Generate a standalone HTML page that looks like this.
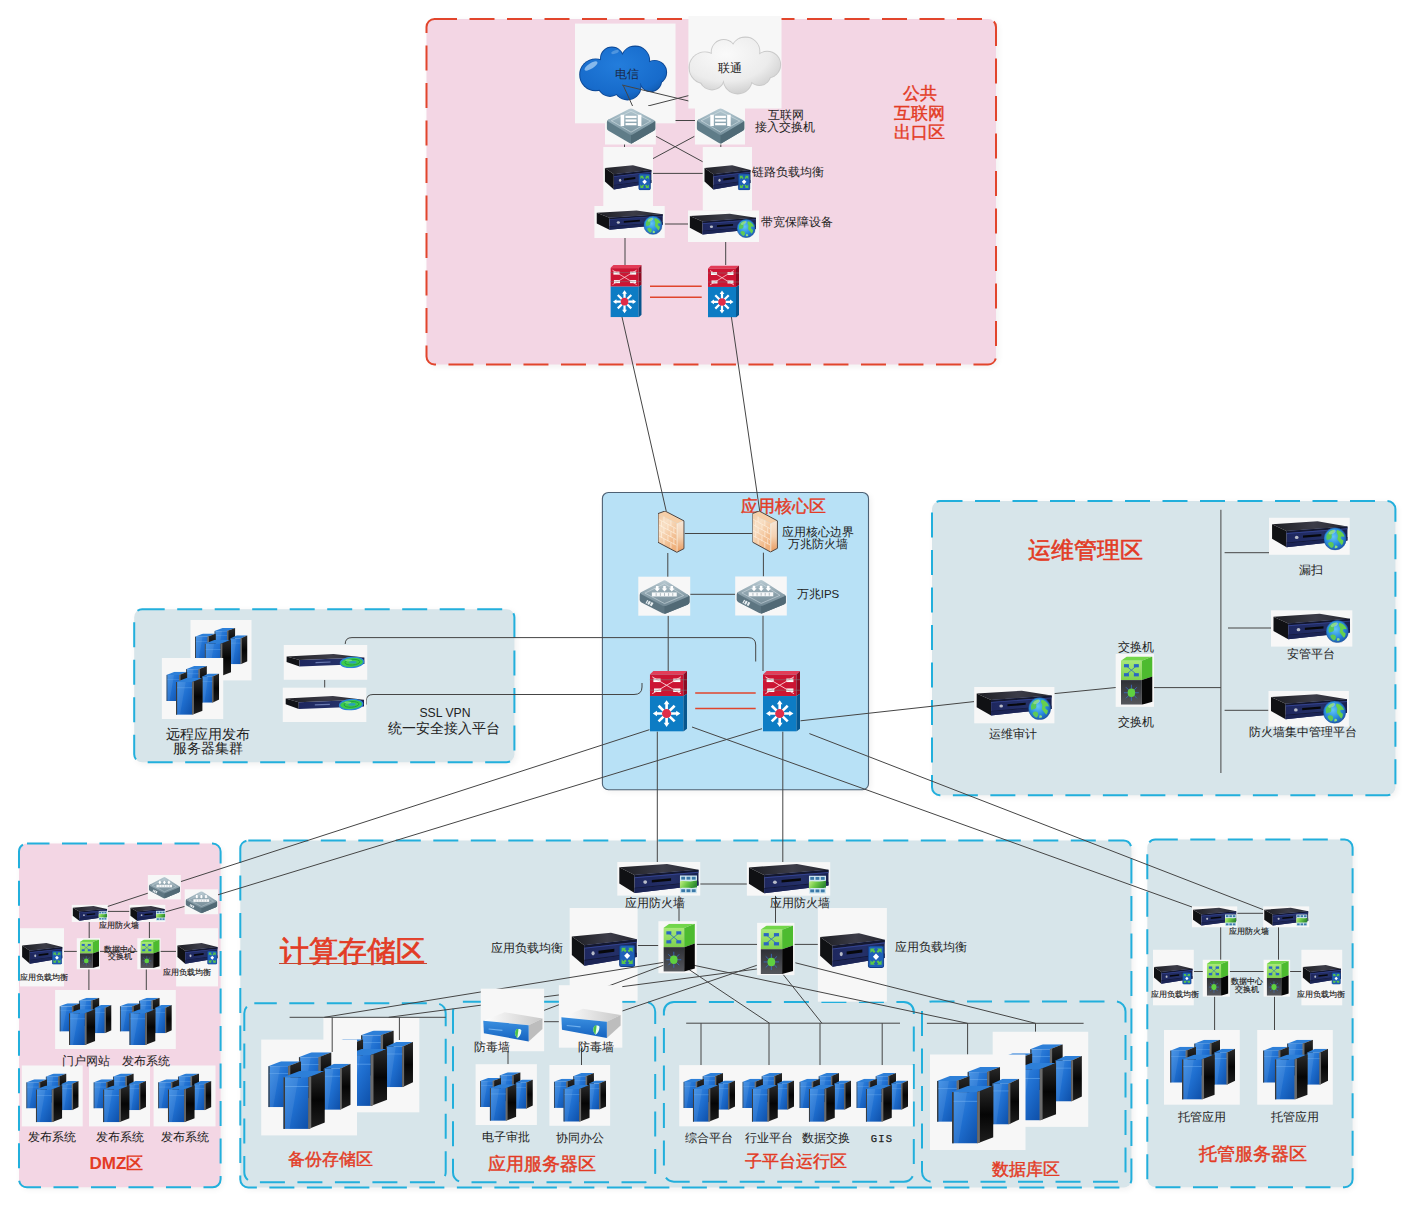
<!DOCTYPE html>
<html><head><meta charset="utf-8"><style>
html,body{margin:0;padding:0;background:#ffffff;width:1417px;height:1210px;overflow:hidden}
svg{display:block}
</style></head><body>
<svg width="1417" height="1210" viewBox="0 0 1417 1210">
<filter id="blur" x="-5%" y="-5%" width="110%" height="110%"><feGaussianBlur stdDeviation="3"/></filter>

<defs>
 <linearGradient id="gTop" x1="0" y1="0" x2="1" y2="0"><stop offset="0" stop-color="#1c1d22"/><stop offset="0.55" stop-color="#3c3c48"/><stop offset="1" stop-color="#26272f"/></linearGradient>
 <linearGradient id="gFront" x1="0" y1="0" x2="1" y2="0"><stop offset="0" stop-color="#1e275e"/><stop offset="0.6" stop-color="#243068"/><stop offset="1" stop-color="#19214e"/></linearGradient>
 <radialGradient id="gGlobe" cx="0.42" cy="0.4" r="0.65"><stop offset="0" stop-color="#62c6f6"/><stop offset="0.55" stop-color="#2b8ee0"/><stop offset="1" stop-color="#1d56a8"/></radialGradient>
 <linearGradient id="gTowerF" x1="0" y1="0" x2="1" y2="1"><stop offset="0" stop-color="#3d8fe6"/><stop offset="0.5" stop-color="#1f6fd0"/><stop offset="1" stop-color="#0e4fa8"/></linearGradient>
 <linearGradient id="gTowerS" x1="0" y1="0" x2="0" y2="1"><stop offset="0" stop-color="#2a2a2a"/><stop offset="0.5" stop-color="#050505"/><stop offset="1" stop-color="#1e1e1e"/></linearGradient>
 <radialGradient id="gCloudB" cx="0.45" cy="0.35" r="0.75"><stop offset="0" stop-color="#237ddc"/><stop offset="0.7" stop-color="#176bcb"/><stop offset="1" stop-color="#0c4f9f"/></radialGradient>
 <radialGradient id="gCloudW2" cx="0.4" cy="0.3" r="0.8"><stop offset="0" stop-color="#fafafa"/><stop offset="0.6" stop-color="#ececec"/><stop offset="1" stop-color="#c6c6c6"/></radialGradient>
 <radialGradient id="gCloudW" cx="0.45" cy="0.4" r="0.65"><stop offset="0" stop-color="#fbfbfb"/><stop offset="0.7" stop-color="#e6e6e6"/><stop offset="1" stop-color="#c2c2c2"/></radialGradient>
 <linearGradient id="gBrick" x1="0" y1="0" x2="0.6" y2="1"><stop offset="0" stop-color="#f3c79e"/><stop offset="0.35" stop-color="#f8e0c6"/><stop offset="1" stop-color="#f0b27e"/></linearGradient>
 <linearGradient id="gBrickR" x1="0" y1="0" x2="0" y2="1"><stop offset="0" stop-color="#f7e6d6"/><stop offset="0.5" stop-color="#f4d2b2"/><stop offset="1" stop-color="#e89a5e"/></linearGradient>
 <linearGradient id="gIpsTop" x1="0" y1="0" x2="0" y2="1"><stop offset="0" stop-color="#b9cad2"/><stop offset="0.5" stop-color="#8ea3ad"/><stop offset="1" stop-color="#728995"/></linearGradient>
 <linearGradient id="gSwTop" x1="0" y1="0" x2="0" y2="1"><stop offset="0" stop-color="#b7cad3"/><stop offset="0.55" stop-color="#8fa8b3"/><stop offset="1" stop-color="#76909c"/></linearGradient>
 <linearGradient id="gAvTop" x1="0" y1="0" x2="1" y2="0"><stop offset="0" stop-color="#ffffff"/><stop offset="1" stop-color="#c9c9c9"/></linearGradient>
 <linearGradient id="gAvF" x1="0" y1="0" x2="0" y2="1"><stop offset="0" stop-color="#3a8fe0"/><stop offset="1" stop-color="#1562bf"/></linearGradient>
 <linearGradient id="gGreenF" x1="0" y1="0" x2="0" y2="1"><stop offset="0" stop-color="#a8e878"/><stop offset="1" stop-color="#7fd24e"/></linearGradient>
 <linearGradient id="gDarkF" x1="0" y1="0" x2="0" y2="1"><stop offset="0" stop-color="#2e3036"/><stop offset="1" stop-color="#55575c"/></linearGradient>

 <symbol id="srv" viewBox="0 0 80 34" preserveAspectRatio="none">
  <polygon points="1,5 48,1.5 79,7.5 16,13" fill="url(#gTop)"/>
  <polygon points="1,5 16,13 16,32 1,22" fill="#101114"/>
  <polygon points="16,13 79,7.5 79,24 16,32" fill="url(#gFront)"/>
  <polygon points="16,13 79,7.5 79,9.8 16,15.3" fill="#141830"/>
  <polygon points="16,15.3 79,9.8 79,10.8 16,16.4" fill="#34438e"/>
  <circle cx="26.5" cy="20.5" r="1.9" fill="#b8bcc8"/>
  <polygon points="33,18.2 52,16.4 52,19 33,20.8" fill="#07080c"/>
  <polygon points="16,26.5 79,20 79,21 16,27.5" fill="#141a3a"/>
  <polygon points="16,27.5 79,21 79,24 16,32" fill="#1b2455"/>
 </symbol>

 <symbol id="srv1u" viewBox="0 0 80 13" preserveAspectRatio="none">
  <polygon points="1,2.5 48,0 79,3.5 14,6" fill="url(#gTop)"/>
  <polygon points="1,2.5 14,6 14,12.5 1,8" fill="#111216"/>
  <polygon points="14,6 79,3.5 79,10 14,12.5" fill="url(#gFront)"/>
  <polygon points="30,8 45,7.4 45,8.6 30,9.2" fill="#6a7ab0"/>
 </symbol>
 <symbol id="globe" viewBox="0 0 24 24">
  <circle cx="12" cy="12" r="11.6" fill="url(#gGlobe)"/>
  <path d="M3.2,8 C5,4 8.5,2.2 11,2.6 C12.5,4 10.5,5.5 9,6.5 C7.5,8 9.5,9.5 8,11.5 C6.5,13 4.5,12 3.5,13.5 C2.8,11.5 2.6,9.5 3.2,8Z" fill="#58c85a"/>
  <path d="M14.5,2.8 C18,3.6 21,6.5 21.8,9.5 C20.5,10.2 19.5,9 18.3,9.8 C17,11 18.8,13 20.5,13.5 C21,15 20.2,17 19,18.5 C17.5,17 16.5,15 15,13.5 C13.5,12 15.5,10 14.8,8 C14,6 12.5,4.5 14.5,2.8Z" fill="#66d04e"/>
  <path d="M6,15.5 C8,14.5 10,15.5 10.5,17.5 C11,19.5 9.5,21 8.5,21.5 C6.5,20.5 5,18.5 4.6,16.5Z" fill="#5ec858"/>
  <path d="M12,19 C13.5,18.5 15,19.5 14.5,21 C13.5,21.8 12.2,21.8 11.5,21.5Z" fill="#8ee07a"/>
  <ellipse cx="9" cy="5" rx="4" ry="1.8" fill="#ffffff" opacity="0.3" transform="rotate(-25 9 5)"/>
  <circle cx="12" cy="12" r="11.6" fill="none" stroke="#1b4f8f" stroke-width="0.5"/>
 </symbol>

 <symbol id="blb" viewBox="0 0 16 22">
  <rect x="0.5" y="0.5" width="15" height="21" rx="2" fill="#1f5fb8" stroke="#113f88" stroke-width="1"/>
  <path d="M2.5,3 L7,3 L5.8,4.2 L7.5,5.9 L6,7.4 L4.3,5.7 L2.5,7.5Z" fill="#59c64a"/>
  <path d="M13.5,3 L9,3 L10.2,4.2 L8.5,5.9 L10,7.4 L11.7,5.7 L13.5,7.5Z" fill="#59c64a"/>
  <path d="M2.5,19 L7,19 L5.8,17.8 L7.5,16.1 L6,14.6 L4.3,16.3 L2.5,14.5Z" fill="#59c64a"/>
  <path d="M13.5,19 L9,19 L10.2,17.8 L8.5,16.1 L10,14.6 L11.7,16.3 L13.5,14.5Z" fill="#59c64a"/>
  <polygon points="8,7.8 11,11 8,14.2 5,11" fill="#ffffff"/>
 </symbol>

 <symbol id="bfw" viewBox="0 0 18 19">
  <linearGradient id="gBfw" x1="0" y1="0" x2="1" y2="0.3"><stop offset="0" stop-color="#c9f08a"/><stop offset="0.5" stop-color="#6cc846"/><stop offset="1" stop-color="#2f8a32"/></linearGradient>
  <rect x="0" y="0" width="18" height="19" fill="#cfe6f0"/>
  <rect x="1.5" y="1.5" width="4" height="3" fill="#3a78a8"/><rect x="7" y="1.5" width="4" height="3" fill="#3a78a8"/><rect x="12.5" y="1.5" width="4" height="3" fill="#3a78a8"/>
  <rect x="1.5" y="14.5" width="4" height="3" fill="#3a78a8"/><rect x="7" y="14.5" width="4" height="3" fill="#3a78a8"/><rect x="12.5" y="14.5" width="4" height="3" fill="#3a78a8"/>
  <path d="M0,6.5 C5,5 10,7.5 18,5.5 L18,12.5 C12,14 6,12 0,13.5Z" fill="url(#gBfw)"/>
 </symbol>

 <symbol id="veye" viewBox="0 0 30 14">
  <ellipse cx="15" cy="7" rx="14" ry="6.2" fill="#3ccb4c" stroke="#2a86d6" stroke-width="1.6" transform="rotate(-4 15 7)"/>
  <ellipse cx="15.5" cy="6.8" rx="9" ry="3.4" fill="none" stroke="#1f9b3c" stroke-width="1.1" transform="rotate(-4 15 7)"/>
  <ellipse cx="16" cy="6.8" rx="4.5" ry="1.6" fill="#2aa0b8"/>
  <ellipse cx="11" cy="4.5" rx="4" ry="1.2" fill="#9af0a0" opacity="0.6"/>
 </symbol>

 <symbol id="cisco" viewBox="0 0 31 52" preserveAspectRatio="none">
  <polygon points="0,3 3,0 31,0 28,3" fill="#e23d58"/>
  <rect x="0" y="3" width="28" height="18.5" fill="#cc1533"/>
  <polygon points="28,3 31,0 31,19.5 28,21.5" fill="#8d0b22"/>
  <rect x="3" y="6.5" width="6" height="3" fill="#fff"/><rect x="19.5" y="6.5" width="6" height="3" fill="#fff"/>
  <rect x="3.5" y="15" width="6" height="3" fill="#fff"/><rect x="19.5" y="15" width="6" height="3" fill="#fff"/>
  <path d="M2,5 L26,19.5 M26,5 L2,19.5" stroke="#f7c9cf" stroke-width="0.8"/>
  <path d="M-5,7.5 L36,7.5 M-5,16.5 L36,16.5" stroke="#7a7a7a" stroke-width="0.6" opacity="0.8"/>
  <rect x="0" y="21.5" width="28" height="30.5" fill="#0d7cc4"/>
  <polygon points="28,21.5 31,19.5 31,49.5 28,52" fill="#07568e"/>
  <g stroke="#ffffff" stroke-width="2.2" stroke-linecap="butt">
   <line x1="14" y1="36.5" x2="14" y2="27"/><line x1="14" y1="36.5" x2="14" y2="46"/>
   <line x1="14" y1="36.5" x2="4.5" y2="36.5"/><line x1="14" y1="36.5" x2="23.5" y2="36.5"/>
   <line x1="14" y1="36.5" x2="7.3" y2="29.8"/><line x1="14" y1="36.5" x2="20.7" y2="29.8"/>
   <line x1="14" y1="36.5" x2="7.3" y2="43.2"/><line x1="14" y1="36.5" x2="20.7" y2="43.2"/>
  </g>
  <g fill="#ffffff">
   <polygon points="14,25 11.6,28.5 16.4,28.5"/><polygon points="14,48 11.6,44.5 16.4,44.5"/>
   <polygon points="2.5,36.5 6,34.1 6,38.9"/><polygon points="25.5,36.5 22,34.1 22,38.9"/>
  </g>
  <circle cx="14" cy="36.5" r="3.8" fill="#e02c48"/>
 </symbol>

 <symbol id="gsw" viewBox="0 0 32 48" preserveAspectRatio="none">
  <polygon points="0,4.1 6,0 31.7,0 21,4.1" fill="#72d64a"/>
  <rect x="0" y="4.1" width="21" height="19.3" fill="url(#gGreenF)"/>
  <polygon points="21,4.1 31.7,0 31.7,19.7 21,23.4" fill="#4dbb2f"/>
  <rect x="0" y="23.4" width="21" height="24.5" fill="url(#gDarkF)"/>
  <polygon points="21,23.4 31.7,19.7 31.7,44.9 21,47.9" fill="#060606"/>
  <g stroke="#2f6fc0" stroke-width="0.8"><line x1="5" y1="9" x2="16" y2="18"/><line x1="16" y1="9" x2="5" y2="18"/></g>
  <rect x="3" y="7.5" width="5" height="3.2" fill="#2a66c4"/><rect x="13" y="7.5" width="5" height="3.2" fill="#2a66c4"/>
  <rect x="3" y="16.5" width="5" height="3.2" fill="#2a66c4"/><rect x="13" y="16.5" width="5" height="3.2" fill="#2a66c4"/>
  <g stroke="#3a70c8" stroke-width="0.8"><line x1="10.5" y1="28" x2="10.5" y2="44"/><line x1="3" y1="36" x2="18" y2="36"/><line x1="5" y1="30.5" x2="16" y2="41.5"/><line x1="16" y1="30.5" x2="5" y2="41.5"/></g>
  <ellipse cx="10.5" cy="36" rx="3.8" ry="4.2" fill="#5fd040"/>
 </symbol>

 <symbol id="brick" viewBox="0 0 27 42" preserveAspectRatio="none">
  <polygon points="0,2.6 19,12.6 19,41.3 0,31.3" fill="url(#gBrick)"/>
  <polygon points="0,2.6 7.1,0 26.2,9.9 19,12.6" fill="#f6cfa8"/>
  <polygon points="19,12.6 26.2,9.9 26.2,37.6 19,41.3" fill="url(#gBrickR)"/>
  <g stroke="#fff4e6" stroke-width="0.75" opacity="0.85" fill="none">
   <line x1="1" y1="8.5" x2="18.5" y2="17.7"/><line x1="1" y1="14" x2="18.5" y2="23.2"/><line x1="1" y1="19.5" x2="18.5" y2="28.7"/><line x1="1" y1="25" x2="18.5" y2="34.2"/>
   <line x1="6" y1="5.6" x2="6" y2="11"/><line x1="13" y1="9.3" x2="13" y2="14.7"/><line x1="3.5" y1="10.2" x2="3.5" y2="15.8"/><line x1="10" y1="13.6" x2="10" y2="19.2"/><line x1="16" y1="16.8" x2="16" y2="22.4"/>
   <line x1="6" y1="16.8" x2="6" y2="22.2"/><line x1="13" y1="20.5" x2="13" y2="26"/><line x1="3.5" y1="21.2" x2="3.5" y2="26.8"/><line x1="10" y1="24.8" x2="10" y2="30.4"/><line x1="16" y1="28" x2="16" y2="33.6"/>
   <line x1="6" y1="28" x2="6" y2="33.4"/><line x1="13" y1="31.7" x2="13" y2="37.2"/>
   <line x1="19.3" y1="13" x2="19.3" y2="41"/>
  </g>
  <polygon points="0,2.6 7.1,0 26.2,9.9 26.2,37.6 19,41.3 0,31.3" fill="none" stroke="#4a4240" stroke-width="1"/>
 </symbol>

 <symbol id="ips" viewBox="0 0 52 39" preserveAspectRatio="none">
  <path d="M2.5,14.6 Q0.7,15.5 0.7,17.5 L0.7,23 Q0.7,24.6 2.5,25.6 L24,37.2 Q26,38.2 28,37.2 L49.5,28 Q51.5,27 51.5,25.2 L51.5,19.8 Q51.5,18 49.5,17 Z" fill="#5d7581"/>
  <path d="M26,29.7 L51.5,18.6 L51.5,25.5 Q51.5,27 49.5,28 L28,37.2 Q26,38.2 26,37.8Z" fill="#516975"/>
  <path d="M24,2.6 Q26,1.2 28,2.6 L49.5,17 Q51.5,18.4 49.5,19.5 L28,29 Q26,29.9 24,29 L2.5,16.8 Q0.5,15.5 2.5,14.3Z" fill="url(#gIpsTop)"/>
  <path d="M26,5.5 L45.5,18.2 L26,26.8 L6,15.6Z" fill="none" stroke="#cfdce2" stroke-width="0.8" stroke-linejoin="round" opacity="0.75"/>
  <rect x="13.1" y="14.9" width="25.4" height="4.3" fill="#f7f9fa"/>
  <g stroke="#7c8b96" stroke-width="0.6"><line x1="17.5" y1="15.6" x2="17.5" y2="18.6"/><line x1="21.8" y1="15.6" x2="21.8" y2="18.6"/><line x1="26" y1="15.6" x2="26" y2="18.6"/><line x1="30.2" y1="15.6" x2="30.2" y2="18.6"/><line x1="34.4" y1="15.6" x2="34.4" y2="18.6"/></g>
  <g fill="#ffffff"><polygon points="17.3,8 19.9,8 19.9,10.6 21.4,10.6 18.6,13.8 15.8,10.6 17.3,10.6"/><polygon points="24.7,8 27.3,8 27.3,10.6 28.8,10.6 26,13.8 23.2,10.6 24.7,10.6"/><polygon points="32.1,8 34.7,8 34.7,10.6 36.2,10.6 33.4,13.8 30.6,10.6 32.1,10.6"/></g>
  <g fill="#e8eef1" transform="rotate(27 9 26)"><rect x="7" y="23.5" width="1.3" height="4"/><rect x="9" y="23.5" width="2.2" height="4"/><rect x="12" y="23.5" width="2.2" height="4"/></g>
 </symbol>

 <symbol id="asw" viewBox="0 0 50 38" preserveAspectRatio="none">
  <path d="M3,13.2 Q1.4,14.3 1.4,16 L1.4,22 Q1.4,23.6 3,24.5 L23.5,36.8 Q25.5,38 27.5,36.8 L48.3,24.6 Q50,23.6 50,22 L50,16.5 Q50,14.9 48.3,13.9Z" fill="#5f7c88"/>
  <path d="M25.5,29.1 L50,14.7 L50,22 Q50,23.6 48.3,24.6 L27.5,36.8 Q25.5,38 25.5,37.6Z" fill="#4f6a76"/>
  <path d="M23.5,2.5 Q25.5,1.3 27.5,2.5 L48.3,13.6 Q50,14.7 48.3,15.8 L27.5,28 Q25.5,29.2 23.5,28 L3,15.5 Q1.4,14.3 3,13.2Z" fill="url(#gSwTop)"/>
  <path d="M25.5,4.8 L45.2,14.7 L25.5,26 L5.8,14.4Z" fill="none" stroke="#d9e5ea" stroke-width="0.8" stroke-linejoin="round" opacity="0.7"/>
  <rect x="15.1" y="8.4" width="3.6" height="11.4" fill="#fff"/><rect x="32.3" y="8.4" width="3.6" height="11.4" fill="#fff"/>
  <rect x="20" y="9.4" width="11" height="2.2" fill="#fff"/><rect x="20" y="13.1" width="11" height="2.2" fill="#fff"/><rect x="20" y="16.8" width="11" height="2.2" fill="#fff"/>
 </symbol>

 <symbol id="av" viewBox="0 0 64 63" preserveAspectRatio="none">
  <polygon points="2.5,32.2 24.2,23.8 62.3,30 48.4,36.8" fill="url(#gAvTop)"/>
  <polygon points="48.4,36.8 62.3,30 62.3,40.6 48.4,53.3" fill="#bdbdbd"/>
  <polygon points="2.5,32.2 48.4,36.8 48.4,53.3 3.1,44.9" fill="url(#gAvF)"/>
  <rect x="8" y="40" width="14" height="1.2" fill="#6fb0ee" transform="rotate(6 8 40)"/>
  <path d="M35,43 C36,40 40,40 41,42 C41,46 39,49 37,50 C35,48 34,45 35,43Z" fill="#e8fff0"/>
  <path d="M35,43 C36,40 38,40 38,41 C38,44 37,47 37,50 C35,48 34,45 35,43Z" fill="#4cc04a"/>
 </symbol>

 <symbol id="tower" viewBox="0 0 33 46" preserveAspectRatio="none">
  <polygon points="0,5 20,5 33,0 13,0" fill="#2d7fd8"/>
  <rect x="0" y="5" width="20" height="41" fill="url(#gTowerF)"/>
  <rect x="0" y="5" width="1.4" height="41" fill="#3a3a3a"/>
  <polygon points="20,5 33,0 33,41 20,46" fill="url(#gTowerS)"/>
  <polygon points="20,5 22.2,4.2 22.2,45.2 20,46" fill="#6b6b6b"/>
  <rect x="1.4" y="12" width="18.6" height="0.6" fill="#5aa0ea"/>
  <path d="M1.4,5 L12,5 L5,46 L1.4,46Z" fill="#ffffff" opacity="0.08"/>
 </symbol>

 <symbol id="cluster" viewBox="0 0 76 75" preserveAspectRatio="none">
  <use href="#tower" x="29.8" y="9.9" width="26" height="36"/>
  <use href="#tower" x="5.6" y="16.9" width="26" height="36"/>
  <use href="#tower" x="49.5" y="19" width="21.5" height="36"/>
  <use href="#tower" x="17.5" y="24.6" width="33" height="45.3"/>
 </symbol>
</defs>

<rect x="428.5" y="21" width="569.5" height="345.5" rx="8" fill="#000" opacity="0.06" filter="url(#blur)"/><rect x="426.5" y="19" width="569.5" height="345.5" rx="8" fill="#f3d6e4" stroke="#e2452c" stroke-width="2" stroke-dasharray="25,12.5" stroke-dashoffset="2.5"/><rect x="604.4" y="494.5" width="266.1" height="297.2" rx="6" fill="#000" opacity="0.06" filter="url(#blur)"/><rect x="602.4" y="492.5" width="266.1" height="297.2" rx="6" fill="#b8e1f6" stroke="#4e6174" stroke-width="1.1"/><rect x="136.2" y="611.2" width="380.2" height="153.1" rx="8" fill="#000" opacity="0.06" filter="url(#blur)"/><rect x="134.2" y="609.2" width="380.2" height="153.1" rx="8" fill="#d7e5ea" stroke="#22afdc" stroke-width="2" stroke-dasharray="25,12.5" stroke-dashoffset="2.5"/><rect x="934" y="503.1" width="463.4" height="294.1" rx="8" fill="#000" opacity="0.06" filter="url(#blur)"/><rect x="932" y="501.1" width="463.4" height="294.1" rx="8" fill="#d7e5ea" stroke="#22afdc" stroke-width="2" stroke-dasharray="25,12.5" stroke-dashoffset="2.5"/><rect x="21" y="845.5" width="201.6" height="343.8" rx="8" fill="#000" opacity="0.06" filter="url(#blur)"/><rect x="19" y="843.5" width="201.6" height="343.8" rx="8" fill="#f3d6e4" stroke="#22afdc" stroke-width="2" stroke-dasharray="25,12.5" stroke-dashoffset="2.5"/><rect x="242.3" y="842.6" width="891.1" height="346.9" rx="8" fill="#000" opacity="0.06" filter="url(#blur)"/><rect x="240.3" y="840.6" width="891.1" height="346.9" rx="8" fill="#d7e5ea" stroke="#22afdc" stroke-width="2" stroke-dasharray="25,12.5" stroke-dashoffset="2.5"/><rect x="244.3" y="1003.2" width="201.4" height="179.1" rx="10" fill="#d7e5ea" stroke="#22afdc" stroke-width="2" stroke-dasharray="25,12.5" stroke-dashoffset="2.5"/><rect x="453" y="1001.8" width="202.2" height="180.4" rx="10" fill="#d7e5ea" stroke="#22afdc" stroke-width="2" stroke-dasharray="25,12.5" stroke-dashoffset="2.5"/><rect x="663.9" y="1001.9" width="249.9" height="179.8" rx="10" fill="#d7e5ea" stroke="#22afdc" stroke-width="2" stroke-dasharray="25,12.5" stroke-dashoffset="2.5"/><rect x="922" y="1001.5" width="203.5" height="180.3" rx="10" fill="#d7e5ea" stroke="#22afdc" stroke-width="2" stroke-dasharray="25,12.5" stroke-dashoffset="2.5"/><rect x="1149.3" y="841.6" width="205.3" height="347.6" rx="8" fill="#000" opacity="0.06" filter="url(#blur)"/><rect x="1147.3" y="839.6" width="205.3" height="347.6" rx="8" fill="#d7e5ea" stroke="#22afdc" stroke-width="2" stroke-dasharray="25,12.5" stroke-dashoffset="2.5"/><path d="M655,120.5 L695,120.5" fill="none" stroke="#454545" stroke-width="1"/><path d="M656.2,136.4 L702.8,161.8" fill="none" stroke="#454545" stroke-width="1"/><path d="M694.3,136.4 L653,158.6" fill="none" stroke="#454545" stroke-width="1"/><path d="M624.5,144 L624.5,148" fill="none" stroke="#454545" stroke-width="1"/><path d="M720.8,144 L720.8,148" fill="none" stroke="#454545" stroke-width="1"/><path d="M653,173.4 L702.8,173.4" fill="none" stroke="#454545" stroke-width="1"/><path d="M664.7,224 L688,224" fill="none" stroke="#454545" stroke-width="1"/><path d="M625,238 L625,265" fill="none" stroke="#454545" stroke-width="1"/><path d="M725.7,242 L725.7,265" fill="none" stroke="#454545" stroke-width="1"/><path d="M650,286.3 L701.7,286.3" fill="none" stroke="#e0452c" stroke-width="1.5"/><path d="M650,297.3 L701.7,297.3" fill="none" stroke="#e0452c" stroke-width="1.5"/><path d="M622,317 L666.2,511" fill="none" stroke="#454545" stroke-width="1"/><path d="M731.4,317 L759.7,511" fill="none" stroke="#454545" stroke-width="1"/><rect x="575" y="23.6" width="100.5" height="99.7" fill="#f7f7f7"/><g fill="#0b4694"><circle cx="595.6" cy="74.8" r="16.4"/><circle cx="611.9" cy="58.5" r="11.9"/><circle cx="635.2" cy="60.5" r="14.9"/><circle cx="654.6" cy="72.4" r="12.5"/><circle cx="627.4" cy="86.4" r="14.1"/><circle cx="650.7" cy="80.7" r="11.4"/><circle cx="610" cy="84" r="12.9"/></g><clipPath id="cpB"><circle cx="595.6" cy="74.8" r="15.5"/><circle cx="611.9" cy="58.5" r="11"/><circle cx="635.2" cy="60.5" r="14"/><circle cx="654.6" cy="72.4" r="11.6"/><circle cx="627.4" cy="86.4" r="13.2"/><circle cx="650.7" cy="80.7" r="10.5"/><circle cx="610" cy="84" r="12"/><ellipse cx="625" cy="72" rx="25" ry="14"/></clipPath><rect x="580.1" y="46.5" width="86.10000000000002" height="53.10000000000001" fill="url(#gCloudB)" clip-path="url(#cpB)"/><ellipse cx="591" cy="66" rx="7.5" ry="2.8" fill="#a9d0f4" opacity="0.75" transform="rotate(-32 591 66)"/><ellipse cx="615" cy="52" rx="4" ry="1.6" fill="#7fb6ea" opacity="0.5" transform="rotate(-20 615 52)"/><path d="M623.5,86 L633,107" fill="none" stroke="#454545" stroke-width="1"/><path d="M622,85 L718,108" fill="none" stroke="#454545" stroke-width="1"/><path d="M648,106 L730,85" fill="none" stroke="#454545" stroke-width="1"/><rect x="688.4" y="16" width="93.1" height="92.5" fill="#f7f7f7"/><g fill="#c9c9c9"><circle cx="705" cy="67.8" r="16.4"/><circle cx="723.7" cy="52" r="12.9"/><circle cx="745.4" cy="51.5" r="14.9"/><circle cx="767.2" cy="64.7" r="13.9"/><circle cx="737.7" cy="79.5" r="14.9"/><circle cx="712" cy="77.5" r="12.9"/><circle cx="759.4" cy="74" r="11.9"/></g><clipPath id="cpW"><circle cx="705" cy="67.8" r="15.5"/><circle cx="723.7" cy="52" r="12"/><circle cx="745.4" cy="51.5" r="14"/><circle cx="767.2" cy="64.7" r="13"/><circle cx="737.7" cy="79.5" r="14"/><circle cx="712" cy="77.5" r="12"/><circle cx="759.4" cy="74" r="11"/><ellipse cx="735" cy="66" rx="28" ry="14"/></clipPath><rect x="689.5" y="37.5" width="90.70000000000005" height="56.0" fill="url(#gCloudW2)" clip-path="url(#cpW)"/><rect x="605" y="106" width="50.8" height="38.5" fill="#f7f7f7"/><use href="#asw" x="605.5" y="106.5" width="50.0" height="37.5"/><rect x="695" y="106" width="50.0" height="38.5" fill="#f7f7f7"/><use href="#asw" x="695.5" y="106.5" width="49.0" height="37.5"/><rect x="603.3" y="147" width="49.7" height="59.0" fill="#f7f7f7"/><use href="#srv" x="604.3" y="164" width="47.7" height="27.0"/><use href="#blb" x="638.2" y="173.4" width="12.8" height="16.9"/><rect x="702.8" y="147" width="49.2" height="63.5" fill="#f7f7f7"/><use href="#srv" x="703.9" y="164" width="47.1" height="27.0"/><use href="#blb" x="737.7" y="173.4" width="12.8" height="16.9"/><rect x="594.4" y="206" width="70.3" height="32.0" fill="#f7f7f7"/><use href="#srv" x="595.9" y="209.5" width="67.7" height="21.5"/><use href="#globe" x="643.5" y="215.8" width="19.0" height="19.0"/><rect x="688" y="210.5" width="71.0" height="31.5" fill="#f7f7f7"/><use href="#srv" x="689" y="212.6" width="67.8" height="23.4"/><use href="#globe" x="736.7" y="219" width="19.0" height="19.0"/><use href="#cisco" x="610.4" y="265.1" width="31.3" height="52.1"/><use href="#cisco" x="708" y="265.5" width="31.0" height="51.9"/><text x="626.7" y="73.8" font-size="12" fill="#1a2a48" text-anchor="middle" font-weight="normal" font-family="'Liberation Sans', sans-serif" dominant-baseline="central" >电信</text><text x="730" y="67.8" font-size="12" fill="#222" text-anchor="middle" font-weight="normal" font-family="'Liberation Sans', sans-serif" dominant-baseline="central" >联通</text><text x="785.5" y="114.6" font-size="12" fill="#222222" text-anchor="middle" font-weight="normal" font-family="'Liberation Sans', sans-serif" dominant-baseline="central" >互联网</text><text x="785" y="127.3" font-size="12" fill="#222222" text-anchor="middle" font-weight="normal" font-family="'Liberation Sans', sans-serif" dominant-baseline="central" >接入交换机</text><text x="752" y="171.8" font-size="12" fill="#222222" text-anchor="start" font-weight="normal" font-family="'Liberation Sans', sans-serif" dominant-baseline="central" >链路负载均衡</text><text x="761" y="222.4" font-size="12" fill="#222222" text-anchor="start" font-weight="normal" font-family="'Liberation Sans', sans-serif" dominant-baseline="central" >带宽保障设备</text><text x="919.5" y="93.5" font-size="17" fill="#e33b25" text-anchor="middle" font-weight="normal" font-family="'Liberation Sans', sans-serif" dominant-baseline="central"  stroke="#e33b25" stroke-width="0.43">公共</text><text x="919.5" y="113.4" font-size="17" fill="#e33b25" text-anchor="middle" font-weight="normal" font-family="'Liberation Sans', sans-serif" dominant-baseline="central"  stroke="#e33b25" stroke-width="0.43">互联网</text><text x="919.5" y="132" font-size="17" fill="#e33b25" text-anchor="middle" font-weight="normal" font-family="'Liberation Sans', sans-serif" dominant-baseline="central"  stroke="#e33b25" stroke-width="0.43">出口区</text><text x="783" y="506.4" font-size="17" fill="#e33b25" text-anchor="middle" font-weight="normal" font-family="'Liberation Sans', sans-serif" dominant-baseline="central"  stroke="#e33b25" stroke-width="0.43">应用核心区</text><path d="M684.8,533.5 L752.4,533.5" fill="none" stroke="#454545" stroke-width="1"/><path d="M667.8,553 L667.8,577" fill="none" stroke="#454545" stroke-width="1"/><path d="M763.4,552.7 L763.4,576.5" fill="none" stroke="#454545" stroke-width="1"/><path d="M690.2,594.3 L735.2,594.3" fill="none" stroke="#454545" stroke-width="1"/><path d="M668.2,615.7 L668.2,671" fill="none" stroke="#454545" stroke-width="1"/><path d="M763,615.5 L763,671" fill="none" stroke="#454545" stroke-width="1"/><path d="M695.2,693.1 L755.7,693.1" fill="none" stroke="#e0452c" stroke-width="1.5"/><path d="M695.2,708.5 L755.7,708.5" fill="none" stroke="#e0452c" stroke-width="1.5"/><path d="M345.2,644 Q345.2,637.6 352,637.6 L748,637.6 Q755.7,637.6 755.7,645 L755.7,661.5" fill="none" stroke="#454545" stroke-width="1"/><path d="M366.3,704.6 L366.3,701 Q366.3,694.5 373,694.5 L634,694.5 Q642,694.5 642,687 L642,683" fill="none" stroke="#454545" stroke-width="1"/><path d="M657.3,731.6 L657.3,862" fill="none" stroke="#454545" stroke-width="1"/><path d="M782.8,731.6 L782.8,862" fill="none" stroke="#454545" stroke-width="1"/><path d="M649.4,729.7 L180.8,881.6" fill="none" stroke="#454545" stroke-width="1"/><path d="M762,728.7 L218,894.8" fill="none" stroke="#454545" stroke-width="1"/><path d="M692,727 L1192,907" fill="none" stroke="#454545" stroke-width="1"/><path d="M809.4,733.6 L1263.6,909.8" fill="none" stroke="#454545" stroke-width="1"/><path d="M800.5,720.8 L974,701.6" fill="none" stroke="#454545" stroke-width="1"/><use href="#brick" x="658" y="511" width="26.8" height="42.0"/><use href="#brick" x="752.4" y="511" width="25.8" height="41.7"/><rect x="638.3" y="576.7" width="51.9" height="39.0" fill="#f7f7f7"/><use href="#ips" x="639" y="578.5" width="51.0" height="36.5"/><rect x="735.2" y="576.5" width="51.6" height="39.0" fill="#f7f7f7"/><use href="#ips" x="736" y="578.3" width="50.3" height="36.5"/><use href="#cisco" x="649.8" y="671" width="37.2" height="60.6"/><use href="#cisco" x="763" y="671" width="37.0" height="60.6"/><text x="818.4" y="531.8" font-size="12" fill="#222222" text-anchor="middle" font-weight="normal" font-family="'Liberation Sans', sans-serif" dominant-baseline="central" >应用核心边界</text><text x="818.2" y="544.0" font-size="12" fill="#222222" text-anchor="middle" font-weight="normal" font-family="'Liberation Sans', sans-serif" dominant-baseline="central" >万兆防火墙</text><text x="818" y="593.8" font-size="11.5" fill="#222222" text-anchor="middle" font-weight="normal" font-family="'Liberation Sans', sans-serif" dominant-baseline="central" >万兆IPS</text><rect x="190.5" y="620" width="61.0" height="60.4" fill="#f7f7f7"/><use href="#cluster" x="190.5" y="620" width="61.0" height="60.4"/><rect x="161.9" y="658" width="61.3" height="61.0" fill="#f7f7f7"/><use href="#cluster" x="161.9" y="658" width="61.3" height="61.0"/><path d="M324.7,679.8 L324.7,687.7" fill="none" stroke="#454545" stroke-width="1"/><rect x="283.8" y="645" width="83.4" height="34.8" fill="#f7f7f7"/><use href="#srv1u" x="285.6" y="654" width="79.8" height="13.0"/><use href="#veye" x="338.8" y="656.6" width="26.4" height="11.6"/><rect x="282.8" y="687.7" width="83.5" height="34.3" fill="#f7f7f7"/><use href="#srv1u" x="284.7" y="696" width="80.3" height="13.5"/><use href="#veye" x="337.9" y="698.8" width="26.4" height="11.6"/><text x="207.6" y="734.0" font-size="14" fill="#222222" text-anchor="middle" font-weight="normal" font-family="'Liberation Sans', sans-serif" dominant-baseline="central" >远程应用发布</text><text x="207.6" y="748.0999999999999" font-size="14" fill="#222222" text-anchor="middle" font-weight="normal" font-family="'Liberation Sans', sans-serif" dominant-baseline="central" >服务器集群</text><text x="445" y="713.3" font-size="12.2" fill="#222222" text-anchor="middle" font-weight="normal" font-family="'Liberation Sans', sans-serif" dominant-baseline="central" >SSL VPN</text><text x="444.3" y="728.0" font-size="14" fill="#222222" text-anchor="middle" font-weight="normal" font-family="'Liberation Sans', sans-serif" dominant-baseline="central" >统一安全接入平台</text><path d="M1054.4,693.6 L1121,687" fill="none" stroke="#454545" stroke-width="1"/><path d="M1150,687.6 L1220.9,687.6" fill="none" stroke="#454545" stroke-width="1"/><path d="M1220.9,509.8 L1220.9,773" fill="none" stroke="#454545" stroke-width="1"/><path d="M1224.6,552.7 L1269,552.7" fill="none" stroke="#454545" stroke-width="1"/><path d="M1228,628 L1271,628" fill="none" stroke="#454545" stroke-width="1"/><path d="M1224.6,710.3 L1268.5,710.3" fill="none" stroke="#454545" stroke-width="1"/><rect x="974.2" y="687" width="80.2" height="36.3" fill="#f7f7f7"/><use href="#srv" x="975.7" y="689.5" width="76.9" height="27.5"/><use href="#globe" x="1028.2" y="697.2" width="22.8" height="22.8"/><rect x="1115.7" y="654" width="38.3" height="52.9" fill="#f7f7f7"/><use href="#gsw" x="1121" y="656.6" width="31.7" height="48.2"/><rect x="1269" y="517.8" width="80.7" height="37.0" fill="#f7f7f7"/><use href="#srv" x="1271.1" y="520" width="77.3" height="29.0"/><use href="#globe" x="1323.6" y="527.4" width="23.0" height="23.0"/><rect x="1271" y="610.3" width="81.3" height="36.3" fill="#f7f7f7"/><use href="#srv" x="1272.5" y="612.5" width="78.5" height="28.5"/><use href="#globe" x="1325.8" y="620" width="23.0" height="23.0"/><rect x="1268.5" y="691" width="80.4" height="35.7" fill="#f7f7f7"/><use href="#srv" x="1270" y="693" width="78.0" height="28.0"/><use href="#globe" x="1323.1" y="700.7" width="23.0" height="23.0"/><text x="1085.3" y="549.5" font-size="23" fill="#e33b25" text-anchor="middle" font-weight="normal" font-family="'Liberation Sans', sans-serif" dominant-baseline="central"  stroke="#e33b25" stroke-width="0.58">运维管理区</text><text x="1013" y="734.0999999999999" font-size="12" fill="#222222" text-anchor="middle" font-weight="normal" font-family="'Liberation Sans', sans-serif" dominant-baseline="central" >运维审计</text><text x="1135.5" y="647.4" font-size="12" fill="#222222" text-anchor="middle" font-weight="normal" font-family="'Liberation Sans', sans-serif" dominant-baseline="central" >交换机</text><text x="1135.5" y="722.0999999999999" font-size="12" fill="#222222" text-anchor="middle" font-weight="normal" font-family="'Liberation Sans', sans-serif" dominant-baseline="central" >交换机</text><text x="1310.8" y="570.0999999999999" font-size="12" fill="#222222" text-anchor="middle" font-weight="normal" font-family="'Liberation Sans', sans-serif" dominant-baseline="central" >漏扫</text><text x="1310.8" y="653.5" font-size="12" fill="#222222" text-anchor="middle" font-weight="normal" font-family="'Liberation Sans', sans-serif" dominant-baseline="central" >安管平台</text><text x="1302.9" y="732.0" font-size="12" fill="#222222" text-anchor="middle" font-weight="normal" font-family="'Liberation Sans', sans-serif" dominant-baseline="central" >防火墙集中管理平台</text><path d="M103,908 L147.9,893.2" fill="none" stroke="#454545" stroke-width="1"/><path d="M165.3,911.9 L184.7,906.4" fill="none" stroke="#454545" stroke-width="1"/><path d="M107.8,911.4 L129.5,911.4" fill="none" stroke="#454545" stroke-width="1"/><path d="M89.2,922 L89.2,938.2" fill="none" stroke="#454545" stroke-width="1"/><path d="M149.4,922 L149.4,938.2" fill="none" stroke="#454545" stroke-width="1"/><path d="M64,951.4 L176.1,951.4" fill="none" stroke="#454545" stroke-width="1"/><path d="M88.9,969.3 L88.9,990" fill="none" stroke="#454545" stroke-width="1"/><path d="M146.3,969.3 L146.3,990" fill="none" stroke="#454545" stroke-width="1"/><rect x="147.9" y="875" width="32.9" height="24.4" fill="#f7f7f7"/><use href="#ips" x="148.5" y="876" width="31.8" height="23.0"/><rect x="184.7" y="889.3" width="33.3" height="24.9" fill="#f7f7f7"/><use href="#ips" x="185.3" y="890.3" width="32.2" height="23.5"/><rect x="71.8" y="904.9" width="36.0" height="17.1" fill="#f7f7f7"/><use href="#srv" x="72.3" y="905.3" width="35.2" height="16.3"/><use href="#bfw" x="98.5" y="910.3" width="8.5" height="10.9"/><rect x="129.5" y="904.9" width="35.8" height="17.1" fill="#f7f7f7"/><use href="#srv" x="130" y="905.3" width="35.0" height="16.3"/><use href="#bfw" x="156" y="910.3" width="9.3" height="10.9"/><rect x="76.8" y="938.2" width="23.2" height="31.1" fill="#f7f7f7"/><use href="#gsw" x="79.9" y="939.5" width="19.4" height="28.5"/><rect x="137.3" y="938.2" width="23.3" height="31.1" fill="#f7f7f7"/><use href="#gsw" x="140.4" y="939.5" width="19.4" height="28.5"/><rect x="20" y="928.2" width="44.0" height="58.2" fill="#f7f7f7"/><use href="#srv" x="21.6" y="942" width="41.2" height="23.0"/><use href="#blb" x="51.9" y="950.7" width="10.1" height="13.9"/><rect x="176.1" y="928.2" width="41.9" height="58.2" fill="#f7f7f7"/><use href="#srv" x="176.9" y="942" width="41.1" height="23.0"/><use href="#blb" x="207.2" y="950.7" width="10.1" height="13.9"/><rect x="55.1" y="990" width="120.7" height="59.0" fill="#f7f7f7"/><use href="#cluster" x="55.1" y="990" width="60.4" height="59.0"/><use href="#cluster" x="115.4" y="990" width="60.4" height="59.0"/><rect x="21.8" y="1065.5" width="60.9" height="60.9" fill="#f7f7f7"/><use href="#cluster" x="21.8" y="1065.5" width="60.9" height="60.9"/><rect x="89" y="1065.5" width="61.0" height="60.9" fill="#f7f7f7"/><use href="#cluster" x="89" y="1065.5" width="61.0" height="60.9"/><rect x="153.6" y="1065.5" width="61.9" height="60.9" fill="#f7f7f7"/><use href="#cluster" x="153.6" y="1065.5" width="61.9" height="60.9"/><text x="118.7" y="925.0999999999999" font-size="8" fill="#111" text-anchor="middle" font-weight="normal" font-family="'Liberation Sans', sans-serif" dominant-baseline="central"  stroke="#222" stroke-width="0.15">应用防火墙</text><text x="120.2" y="949.0999999999999" font-size="8" fill="#111" text-anchor="middle" font-weight="normal" font-family="'Liberation Sans', sans-serif" dominant-baseline="central"  stroke="#222" stroke-width="0.15">数据中心</text><text x="120.2" y="956.9" font-size="8" fill="#111" text-anchor="middle" font-weight="normal" font-family="'Liberation Sans', sans-serif" dominant-baseline="central"  stroke="#222" stroke-width="0.15">交换机</text><text x="44.2" y="977.8" font-size="8" fill="#111" text-anchor="middle" font-weight="normal" font-family="'Liberation Sans', sans-serif" dominant-baseline="central"  stroke="#222" stroke-width="0.15">应用负载均衡</text><text x="187" y="972.4" font-size="8" fill="#111" text-anchor="middle" font-weight="normal" font-family="'Liberation Sans', sans-serif" dominant-baseline="central"  stroke="#222" stroke-width="0.15">应用负载均衡</text><text x="86" y="1060.8" font-size="12" fill="#222222" text-anchor="middle" font-weight="normal" font-family="'Liberation Sans', sans-serif" dominant-baseline="central" >门户网站</text><text x="145.5" y="1060.8" font-size="12" fill="#222222" text-anchor="middle" font-weight="normal" font-family="'Liberation Sans', sans-serif" dominant-baseline="central" >发布系统</text><text x="51.8" y="1137.2" font-size="12" fill="#222222" text-anchor="middle" font-weight="normal" font-family="'Liberation Sans', sans-serif" dominant-baseline="central" >发布系统</text><text x="120" y="1137.2" font-size="12" fill="#222222" text-anchor="middle" font-weight="normal" font-family="'Liberation Sans', sans-serif" dominant-baseline="central" >发布系统</text><text x="184.5" y="1137.2" font-size="12" fill="#222222" text-anchor="middle" font-weight="normal" font-family="'Liberation Sans', sans-serif" dominant-baseline="central" >发布系统</text><text x="116.4" y="1163.6" font-size="17" fill="#e33b25" text-anchor="middle" font-weight="bold" font-family="'Liberation Sans', sans-serif" dominant-baseline="central" >DMZ区</text><path d="M700.2,884 L746.9,884" fill="none" stroke="#454545" stroke-width="1"/><path d="M679,895.6 L679,921.2" fill="none" stroke="#454545" stroke-width="1"/><path d="M775.5,895.7 L775.5,922.9" fill="none" stroke="#454545" stroke-width="1"/><path d="M637.6,945.5 L658.4,945.5" fill="none" stroke="#454545" stroke-width="1"/><path d="M696.7,944.4 L757.1,944.4" fill="none" stroke="#454545" stroke-width="1"/><path d="M794.4,944.4 L817.9,944.4" fill="none" stroke="#454545" stroke-width="1"/><path d="M289.6,1017.3 L445.7,1017.3" fill="none" stroke="#454545" stroke-width="1"/><path d="M544,1021.7 L558.9,1021.7" fill="none" stroke="#454545" stroke-width="1"/><path d="M508,1051 L508,1064.2" fill="none" stroke="#454545" stroke-width="1"/><path d="M581.5,1047.7 L581.5,1065" fill="none" stroke="#454545" stroke-width="1"/><path d="M686.2,1023.2 L900,1023.2" fill="none" stroke="#454545" stroke-width="1"/><path d="M701,1023.2 L701,1065.1" fill="none" stroke="#454545" stroke-width="1"/><path d="M769,1023.2 L769,1065.1" fill="none" stroke="#454545" stroke-width="1"/><path d="M820,1023.2 L820,1065.1" fill="none" stroke="#454545" stroke-width="1"/><path d="M882.2,1023.2 L882.2,1065.1" fill="none" stroke="#454545" stroke-width="1"/><path d="M926.9,1023.3 L1083.6,1023.3" fill="none" stroke="#454545" stroke-width="1"/><path d="M967.6,1023.3 L967.6,1054.5" fill="none" stroke="#454545" stroke-width="1"/><path d="M1035.5,1023.3 L1035.5,1031.8" fill="none" stroke="#454545" stroke-width="1"/><rect x="617.3" y="862" width="82.9" height="33.6" fill="#f7f7f7"/><use href="#srv" x="618.3" y="862.5" width="81.2" height="32.5"/><use href="#bfw" x="679.8" y="875.3" width="17.3" height="18.3"/><rect x="746.9" y="862.1" width="83.3" height="33.6" fill="#f7f7f7"/><use href="#srv" x="747.9" y="862.6" width="81.6" height="32.6"/><use href="#bfw" x="808.8" y="875.5" width="17.3" height="18.3"/><rect x="569.7" y="908" width="67.9" height="92.8" fill="#f7f7f7"/><use href="#srv" x="571" y="931" width="66.6" height="37.0"/><use href="#blb" x="619.1" y="944.7" width="16.1" height="22.3"/><rect x="817.9" y="908" width="69.0" height="93.7" fill="#f7f7f7"/><use href="#srv" x="819.3" y="931.5" width="66.2" height="37.5"/><use href="#blb" x="867.6" y="945.4" width="16.8" height="22.5"/><rect x="658.4" y="921.2" width="38.3" height="52.0" fill="#f7f7f7"/><rect x="757.1" y="922.9" width="37.3" height="52.2" fill="#f7f7f7"/><path d="M663.4,962.4 L324.3,1017.3" fill="none" stroke="#454545" stroke-width="1"/><path d="M756.8,969 L388.7,1017.3" fill="none" stroke="#454545" stroke-width="1"/><path d="M693.9,965.3 L967.6,1023.3" fill="none" stroke="#454545" stroke-width="1"/><path d="M688.2,969 L769.5,1023.2" fill="none" stroke="#454545" stroke-width="1"/><path d="M783.4,974.8 L821.9,1023.2" fill="none" stroke="#454545" stroke-width="1"/><path d="M795.4,962.8 L1035.5,1023.3" fill="none" stroke="#454545" stroke-width="1"/><path d="M663.4,965.3 L544,1010.4" fill="none" stroke="#454545" stroke-width="1"/><path d="M756.8,965.3 L622.3,1011" fill="none" stroke="#454545" stroke-width="1"/><use href="#gsw" x="663.4" y="923.8" width="31.7" height="47.9"/><use href="#gsw" x="760.6" y="925.5" width="32.8" height="48.6"/><rect x="323.4" y="1018" width="95.9" height="94.3" fill="#f7f7f7"/><use href="#cluster" x="323.4" y="1018" width="95.9" height="94.3"/><rect x="261.2" y="1039.6" width="95.8" height="95.8" fill="#f7f7f7"/><use href="#cluster" x="261.2" y="1039.6" width="95.8" height="95.8"/><path d="M332.2,1017.3 L332.2,1052" fill="none" stroke="#454545" stroke-width="1"/><path d="M399.4,1017.3 L399.4,1040" fill="none" stroke="#454545" stroke-width="1"/><rect x="480.8" y="988.7" width="63.3" height="62.5" fill="#f7f7f7"/><use href="#av" x="480.8" y="988.7" width="63.3" height="62.5"/><rect x="558.9" y="985.2" width="63.4" height="62.5" fill="#f7f7f7"/><use href="#av" x="558.9" y="985.2" width="63.4" height="62.5"/><rect x="475.6" y="1064.2" width="61.3" height="60.8" fill="#f7f7f7"/><use href="#cluster" x="475.6" y="1064.2" width="61.3" height="60.8"/><rect x="549.4" y="1065" width="60.7" height="60.8" fill="#f7f7f7"/><use href="#cluster" x="549.4" y="1065" width="60.7" height="60.8"/><rect x="679.2" y="1065.1" width="233.6" height="61.2" fill="#f7f7f7"/><use href="#cluster" x="679" y="1065" width="60.0" height="61.0"/><use href="#cluster" x="738" y="1065" width="60.0" height="61.0"/><use href="#cluster" x="795" y="1065" width="60.0" height="61.0"/><use href="#cluster" x="852" y="1065" width="60.0" height="61.0"/><rect x="992.7" y="1031.8" width="95.5" height="95.1" fill="#f7f7f7"/><use href="#cluster" x="992.7" y="1031.8" width="95.5" height="95.1"/><rect x="930" y="1054.5" width="95.5" height="95.5" fill="#f7f7f7"/><use href="#cluster" x="930" y="1054.5" width="95.5" height="95.5"/><text x="352" y="950.9" font-size="29" fill="#e33b25" text-anchor="middle" font-weight="normal" font-family="'Liberation Sans', sans-serif" dominant-baseline="central"  stroke="#e33b25" stroke-width="0.73">计算存储区</text><path d="M279,963.5 L427,963.5" fill="none" stroke="#c8452e" stroke-width="1.2"/><text x="655.2" y="902.5999999999999" font-size="12" fill="#222222" text-anchor="middle" font-weight="normal" font-family="'Liberation Sans', sans-serif" dominant-baseline="central" >应用防火墙</text><text x="799.9" y="903.1999999999999" font-size="12" fill="#222222" text-anchor="middle" font-weight="normal" font-family="'Liberation Sans', sans-serif" dominant-baseline="central" >应用防火墙</text><text x="562.6" y="947.5" font-size="12" fill="#222222" text-anchor="end" font-weight="normal" font-family="'Liberation Sans', sans-serif" dominant-baseline="central" >应用负载均衡</text><text x="894.7" y="947.1999999999999" font-size="12" fill="#222222" text-anchor="start" font-weight="normal" font-family="'Liberation Sans', sans-serif" dominant-baseline="central" >应用负载均衡</text><text x="330.9" y="1159.4" font-size="17" fill="#e33b25" text-anchor="middle" font-weight="normal" font-family="'Liberation Sans', sans-serif" dominant-baseline="central"  stroke="#e33b25" stroke-width="0.43">备份存储区</text><text x="492" y="1046.8" font-size="12" fill="#222222" text-anchor="middle" font-weight="normal" font-family="'Liberation Sans', sans-serif" dominant-baseline="central" >防毒墙</text><text x="596.2" y="1046.8" font-size="12" fill="#222222" text-anchor="middle" font-weight="normal" font-family="'Liberation Sans', sans-serif" dominant-baseline="central" >防毒墙</text><text x="506" y="1137.0" font-size="12" fill="#222222" text-anchor="middle" font-weight="normal" font-family="'Liberation Sans', sans-serif" dominant-baseline="central" >电子审批</text><text x="579.7" y="1137.8" font-size="12" fill="#222222" text-anchor="middle" font-weight="normal" font-family="'Liberation Sans', sans-serif" dominant-baseline="central" >协同办公</text><text x="542.4" y="1164" font-size="17.5" fill="#e33b25" text-anchor="middle" font-weight="normal" font-family="'Liberation Sans', sans-serif" dominant-baseline="central"  stroke="#e33b25" stroke-width="0.44">应用服务器区</text><text x="709.3" y="1138.0" font-size="12" fill="#222222" text-anchor="middle" font-weight="normal" font-family="'Liberation Sans', sans-serif" dominant-baseline="central" >综合平台</text><text x="768.6" y="1138.0" font-size="12" fill="#222222" text-anchor="middle" font-weight="normal" font-family="'Liberation Sans', sans-serif" dominant-baseline="central" >行业平台</text><text x="825.5" y="1138.0" font-size="12" fill="#222222" text-anchor="middle" font-weight="normal" font-family="'Liberation Sans', sans-serif" dominant-baseline="central" >数据交换</text><text x="882" y="1138.8" font-size="10.5" fill="#222222" text-anchor="middle" font-weight="normal" font-family="'Liberation Mono', monospace" dominant-baseline="central" stroke="#222" stroke-width="0.25" letter-spacing="1.2">GIS</text><text x="796.2" y="1161.9" font-size="17" fill="#e33b25" text-anchor="middle" font-weight="normal" font-family="'Liberation Sans', sans-serif" dominant-baseline="central"  stroke="#e33b25" stroke-width="0.43">子平台运行区</text><text x="1025.5" y="1169" font-size="17" fill="#e33b25" text-anchor="middle" font-weight="normal" font-family="'Liberation Sans', sans-serif" dominant-baseline="central"  stroke="#e33b25" stroke-width="0.43">数据库区</text><path d="M1237.2,913.3 L1263.2,913.3" fill="none" stroke="#454545" stroke-width="1"/><path d="M1220.7,927.2 L1220.7,959.8" fill="none" stroke="#454545" stroke-width="1"/><path d="M1278.5,927.2 L1278.5,959.8" fill="none" stroke="#454545" stroke-width="1"/><path d="M1193.8,971.5 L1301.4,971.5" fill="none" stroke="#454545" stroke-width="1"/><path d="M1214.6,996.6 L1214.6,1030" fill="none" stroke="#454545" stroke-width="1"/><path d="M1274.5,996.6 L1274.5,1030" fill="none" stroke="#454545" stroke-width="1"/><rect x="1192" y="906.4" width="45.2" height="20.8" fill="#f7f7f7"/><use href="#srv" x="1192.5" y="906.8" width="44.3" height="20.0"/><use href="#bfw" x="1225" y="914.2" width="11.3" height="12.1"/><rect x="1263.2" y="906.4" width="46.0" height="20.8" fill="#f7f7f7"/><use href="#srv" x="1263.7" y="906.8" width="45.1" height="20.0"/><use href="#bfw" x="1296.2" y="914.2" width="11.3" height="12.1"/><rect x="1153" y="949.8" width="40.8" height="55.5" fill="#f7f7f7"/><use href="#srv" x="1153.5" y="964" width="39.5" height="21.0"/><use href="#blb" x="1181.7" y="972.3" width="10.4" height="12.2"/><rect x="1301.4" y="949.8" width="40.8" height="55.5" fill="#f7f7f7"/><use href="#srv" x="1302.3" y="964" width="39.1" height="21.0"/><use href="#blb" x="1331" y="972.3" width="10.4" height="12.2"/><rect x="1202.8" y="959.8" width="27.1" height="36.8" fill="#f7f7f7"/><use href="#gsw" x="1206.8" y="961" width="21.7" height="34.8"/><rect x="1263.6" y="959.8" width="26.5" height="36.8" fill="#f7f7f7"/><use href="#gsw" x="1266.7" y="961" width="22.2" height="34.8"/><rect x="1164" y="1030" width="75.8" height="74.7" fill="#f7f7f7"/><use href="#cluster" x="1164.6" y="1029.9" width="75.5" height="74.8"/><rect x="1257.2" y="1030" width="75.6" height="74.7" fill="#f7f7f7"/><use href="#cluster" x="1257.5" y="1029.9" width="75.5" height="74.8"/><text x="1248.5" y="931.5" font-size="8" fill="#111" text-anchor="middle" font-weight="normal" font-family="'Liberation Sans', sans-serif" dominant-baseline="central"  stroke="#222" stroke-width="0.15">应用防火墙</text><text x="1247.3" y="981.8" font-size="8" fill="#111" text-anchor="middle" font-weight="normal" font-family="'Liberation Sans', sans-serif" dominant-baseline="central"  stroke="#222" stroke-width="0.15">数据中心</text><text x="1247.3" y="989.5999999999999" font-size="8" fill="#111" text-anchor="middle" font-weight="normal" font-family="'Liberation Sans', sans-serif" dominant-baseline="central"  stroke="#222" stroke-width="0.15">交换机</text><text x="1174.7" y="994.8" font-size="8" fill="#111" text-anchor="middle" font-weight="normal" font-family="'Liberation Sans', sans-serif" dominant-baseline="central"  stroke="#222" stroke-width="0.15">应用负载均衡</text><text x="1321.4" y="994.8" font-size="8" fill="#111" text-anchor="middle" font-weight="normal" font-family="'Liberation Sans', sans-serif" dominant-baseline="central"  stroke="#222" stroke-width="0.15">应用负载均衡</text><text x="1201.7" y="1116.6" font-size="12" fill="#222222" text-anchor="middle" font-weight="normal" font-family="'Liberation Sans', sans-serif" dominant-baseline="central" >托管应用</text><text x="1295" y="1116.6" font-size="12" fill="#222222" text-anchor="middle" font-weight="normal" font-family="'Liberation Sans', sans-serif" dominant-baseline="central" >托管应用</text><text x="1252.8" y="1153.9" font-size="17.5" fill="#e33b25" text-anchor="middle" font-weight="normal" font-family="'Liberation Sans', sans-serif" dominant-baseline="central"  stroke="#e33b25" stroke-width="0.44">托管服务器区</text>
</svg></body></html>
